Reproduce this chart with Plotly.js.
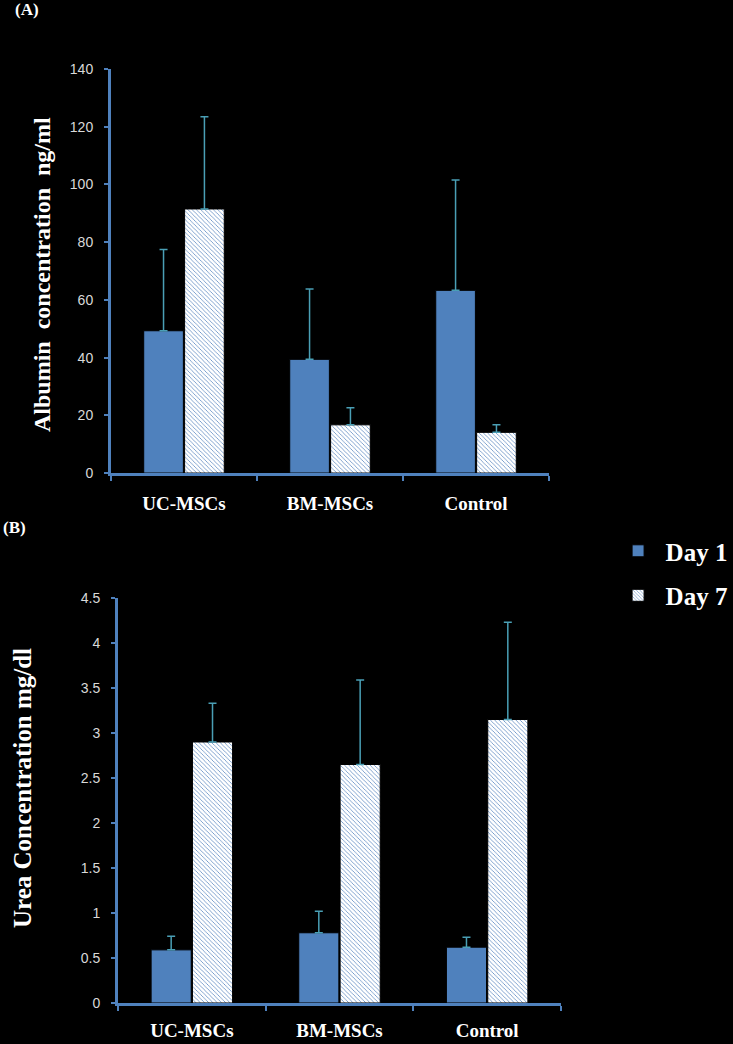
<!DOCTYPE html>
<html>
<head>
<meta charset="utf-8">
<script src="https://cdn.plot.ly/plotly-3.0.1.min.js"></script>
<style>html,body{margin:0;padding:0;background:#000;}#chart{width:733px;height:1044px;}</style>
</head>
<body>
<div id="chart"></div>
<script>
// ---- data ----
var categories = ['UC-MSCs', 'BM-MSCs', 'Control'];
var seriesNames = ['Day 1', 'Day 7'];

// (A) Albumin concentration ng/ml
var albuminDay1 = [49.3, 39.4, 63.3];
var albuminDay1SD = [28.2, 24.4, 38.2];
var albuminDay7 = [91.5, 16.7, 14.1];
var albuminDay7SD = [32.0, 5.9, 2.6];

// (B) Urea concentration mg/dl
var ureaDay1 = [0.59, 0.78, 0.62];
var ureaDay1SD = [0.15, 0.24, 0.11];
var ureaDay7 = [2.90, 2.65, 3.15];
var ureaDay7SD = [0.43, 0.94, 1.08];

var albuminTicks = [0, 20, 40, 60, 80, 100, 120, 140];
var ureaTicks = [0, 0.5, 1, 1.5, 2, 2.5, 3, 3.5, 4, 4.5];
var ureaTickText = ['0', '0.5', '1', '1.5', '2', '2.5', '3', '3.5', '4', '4.5'];

// ---- styling ----
var BLUE = '#4F81BD';
var HATCH = '#6a93c6';
var ERR = '#4a9fb5';
var SERIF = '"Liberation Serif", "Times New Roman", serif';
var SANS = '"Liberation Sans", Arial, sans-serif';

function zeros(n) { var a = []; for (var i = 0; i < n; i++) a.push(0); return a; }

function errY(sd) {
  return {type: 'data', symmetric: false, array: sd, arrayminus: zeros(sd.length),
          color: ERR, thickness: 1.5, width: 4};
}
var day1Marker = {color: BLUE, line: {color: '#000', width: 1}};
var day7Marker = {color: '#ffffff', line: {color: '#000', width: 1},
  pattern: {shape: '\\', fgcolor: HATCH, bgcolor: '#ffffff', size: 3, solidity: 0.28, fillmode: 'replace'}};

var traces = [
  {type: 'bar', name: seriesNames[0], x: categories, y: albuminDay1, error_y: errY(albuminDay1SD),
   marker: day1Marker, xaxis: 'x', yaxis: 'y', legendgroup: 'd1', showlegend: true},
  {type: 'bar', name: seriesNames[1], x: categories, y: albuminDay7, error_y: errY(albuminDay7SD),
   marker: day7Marker, xaxis: 'x', yaxis: 'y', legendgroup: 'd7', showlegend: true},
  {type: 'bar', name: seriesNames[0], x: categories, y: ureaDay1, error_y: errY(ureaDay1SD),
   marker: day1Marker, xaxis: 'x2', yaxis: 'y2', legendgroup: 'd1', showlegend: false},
  {type: 'bar', name: seriesNames[1], x: categories, y: ureaDay7, error_y: errY(ureaDay7SD),
   marker: day7Marker, xaxis: 'x2', yaxis: 'y2', legendgroup: 'd7', showlegend: false}
];

var xCommon = {
  type: 'category', range: [-0.5, 2.5], showline: true, linecolor: BLUE, linewidth: 3,
  ticks: 'outside', tickson: 'boundaries', ticklen: 5, tickwidth: 2, tickcolor: BLUE,
  showgrid: false, zeroline: false, fixedrange: true,
  tickfont: {family: SERIF, size: 19, color: '#ffffff', weight: 'bold'}
};
var yCommon = {
  showline: true, linecolor: BLUE, linewidth: 3, ticks: 'outside', ticklen: 4, tickwidth: 2,
  tickcolor: BLUE, showgrid: false, zeroline: false, fixedrange: true, ticklabelstandoff: 8,
  tickfont: {family: SANS, size: 14, color: '#d9d9d9'}
};

var layout = {
  width: 733, height: 1044,
  paper_bgcolor: '#000', plot_bgcolor: '#000',
  margin: {l: 0, r: 0, t: 0, b: 0},
  barmode: 'group', bargap: 0.44, bargroupgap: 0.03,
  showlegend: true,
  legend: {x: 0.833, y: 0.4942, xanchor: 'left', yanchor: 'top', bgcolor: 'rgba(0,0,0,0)',
           traceorder: 'grouped', tracegroupgap: 9, itemwidth: 45,
           font: {family: SERIF, size: 25, color: '#ffffff', weight: 'bold'}},
  xaxis: Object.assign({}, xCommon, {domain: [0.1514, 0.7490], anchor: 'y', ticklabelstandoff: 11}),
  yaxis: Object.assign({}, yCommon, {domain: [0.5469, 0.9339], anchor: 'x', range: [0, 140],
          tickvals: albuminTicks}),
  xaxis2: Object.assign({}, xCommon, {domain: [0.1610, 0.7653], anchor: 'y2', ticklabelstandoff: 8}),
  yaxis2: Object.assign({}, yCommon, {domain: [0.0393, 0.4272], anchor: 'x2', range: [0, 4.5],
          tickvals: ureaTicks, ticktext: ureaTickText}),
  annotations: [
    {text: '(A)', xref: 'paper', yref: 'paper', x: 27 / 733, y: 1 - 10 / 1044, xanchor: 'center', yanchor: 'middle',
     showarrow: false, font: {family: SERIF, size: 17, color: '#ffffff', weight: 'bold'}},
    {text: '(B)', xref: 'paper', yref: 'paper', x: 14 / 733, y: 1 - 527 / 1044, xanchor: 'center', yanchor: 'middle',
     showarrow: false, font: {family: SERIF, size: 17, color: '#ffffff', weight: 'bold'}},
    {text: 'Albumin  concentration  ng/ml', xref: 'paper', yref: 'paper', x: 42 / 733, y: 1 - 275 / 1044,
     xanchor: 'center', yanchor: 'middle', textangle: -90, showarrow: false,
     font: {family: SERIF, size: 24, color: '#ffffff', weight: 'bold'}},
    {text: 'Urea Concentration mg/dl', xref: 'paper', yref: 'paper', x: 22 / 733, y: 1 - 788 / 1044,
     xanchor: 'center', yanchor: 'middle', textangle: -90, showarrow: false,
     font: {family: SERIF, size: 25, color: '#ffffff', weight: 'bold'}}
  ]
};

Plotly.newPlot('chart', traces, layout, {staticPlot: true, displayModeBar: false});
</script>
</body>
</html>
